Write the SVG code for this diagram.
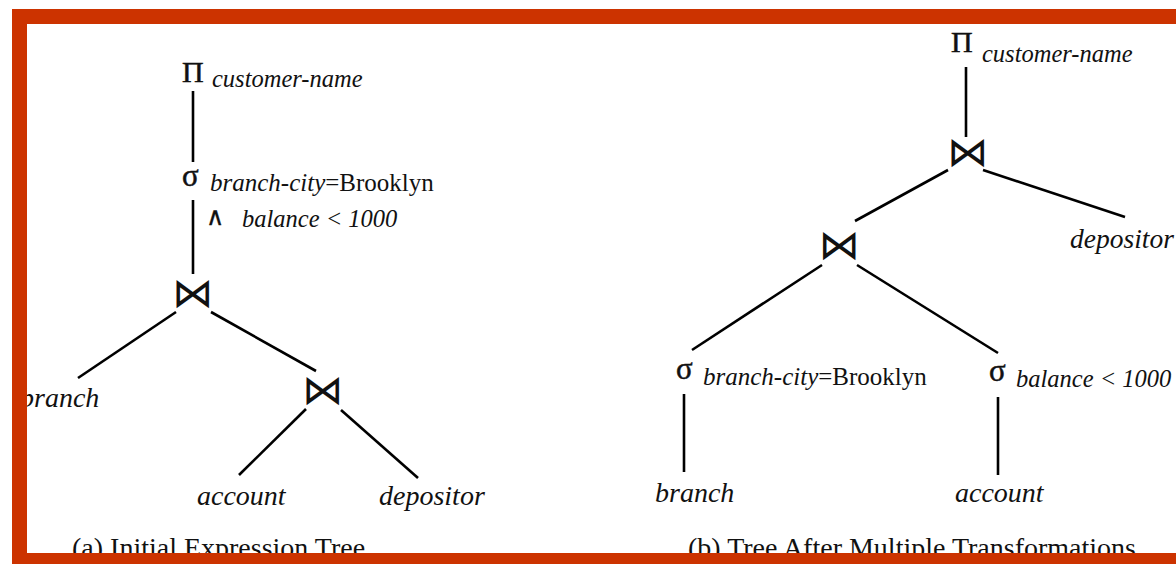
<svg xmlns="http://www.w3.org/2000/svg" width="1176" height="564" viewBox="0 0 1176 564">
<style>
.frame{fill:#CC3300}
.edge{stroke:#000;stroke-width:2.6;fill:none}
.it{font-family:"Liberation Serif","Times New Roman",serif;font-style:italic;fill:#111}
.rm{font-family:"Liberation Serif","Times New Roman",serif;font-style:normal;fill:#111}
.op{font-family:"Liberation Serif",serif;fill:#111;stroke:#111;stroke-width:0.5}
.sym{font-family:"DejaVu Sans",sans-serif;fill:#111}
.join{font-size:41px}
.leaf{font-size:28px}
.sub{font-size:24.5px}
</style>
<rect x="0" y="0" width="1176" height="564" fill="#fff"/>
<g id="connectors">
<line class="edge" x1="193" y1="91" x2="193" y2="162"/>
<line class="edge" x1="193" y1="200" x2="193" y2="274"/>
<line class="edge" x1="176" y1="312" x2="78" y2="378"/>
<line class="edge" x1="211" y1="312" x2="316" y2="371"/>
<line class="edge" x1="306" y1="409" x2="239" y2="475"/>
<line class="edge" x1="341" y1="410" x2="418" y2="478"/>
<line class="edge" x1="966" y1="67" x2="966" y2="137"/>
<line class="edge" x1="948" y1="170" x2="855" y2="221"/>
<line class="edge" x1="983" y1="170" x2="1125" y2="217"/>
<line class="edge" x1="822" y1="265" x2="692" y2="350"/>
<line class="edge" x1="857" y1="265" x2="998" y2="353"/>
<line class="edge" x1="684" y1="394" x2="684" y2="472"/>
<line class="edge" x1="998" y1="397" x2="998" y2="475"/>
</g>
<g id="a-project">
<text class="op" x="182" y="82" font-size="30">Π</text>
<text class="it sub" x="212" y="87">customer-name</text>
</g>
<g id="a-select">
<text class="op" x="182" y="186" font-size="31">σ</text>
<text x="210" y="191" font-size="25"><tspan class="it">branch-city</tspan><tspan class="rm">=Brooklyn</tspan></text>
<text class="sym" x="206" y="225" font-size="25" stroke="#111" stroke-width="0.3">∧</text>
<text class="it sub" x="242" y="227">balance &lt; 1000</text>
</g>
<g id="a-join1"><text class="sym join" x="192.5" y="307" text-anchor="middle">⋈</text></g>
<g id="a-branch"><text class="it leaf" x="20" y="407">branch</text></g>
<g id="a-join2"><text class="sym join" x="322.5" y="404" text-anchor="middle">⋈</text></g>
<g id="a-account"><text class="it leaf" x="197" y="505">account</text></g>
<g id="a-depositor"><text class="it leaf" x="379" y="505">depositor</text></g>
<g id="b-project">
<text class="op" x="951" y="52" font-size="30">Π</text>
<text class="it sub" x="982" y="62">customer-name</text>
</g>
<g id="b-join1"><text class="sym join" x="967.5" y="166" text-anchor="middle">⋈</text></g>
<g id="b-depositor"><text class="it" x="1070" y="248" font-size="27.5">depositor</text></g>
<g id="b-join2"><text class="sym join" x="839" y="259" text-anchor="middle">⋈</text></g>
<g id="b-select1">
<text class="op" x="676" y="379" font-size="31">σ</text>
<text x="703" y="385" font-size="25"><tspan class="it">branch-city</tspan><tspan class="rm">=Brooklyn</tspan></text>
</g>
<g id="b-select2">
<text class="op" x="989" y="381" font-size="31">σ</text>
<text class="it sub" x="1016" y="387">balance &lt; 1000</text>
</g>
<g id="b-branch"><text class="it leaf" x="655" y="502">branch</text></g>
<g id="b-account"><text class="it leaf" x="955" y="502">account</text></g>
<g id="captions">
<text class="rm" x="72" y="557" font-size="28">(a) Initial Expression Tree</text>
<text class="rm" x="688" y="557" font-size="28">(b) Tree After Multiple Transformations</text>
</g>
<g id="frame">
<rect class="frame" x="12" y="9" width="1164" height="15"/>
<rect class="frame" x="12" y="9" width="15" height="555"/>
<rect class="frame" x="12" y="553" width="1164" height="11"/>
</g>
</svg>
